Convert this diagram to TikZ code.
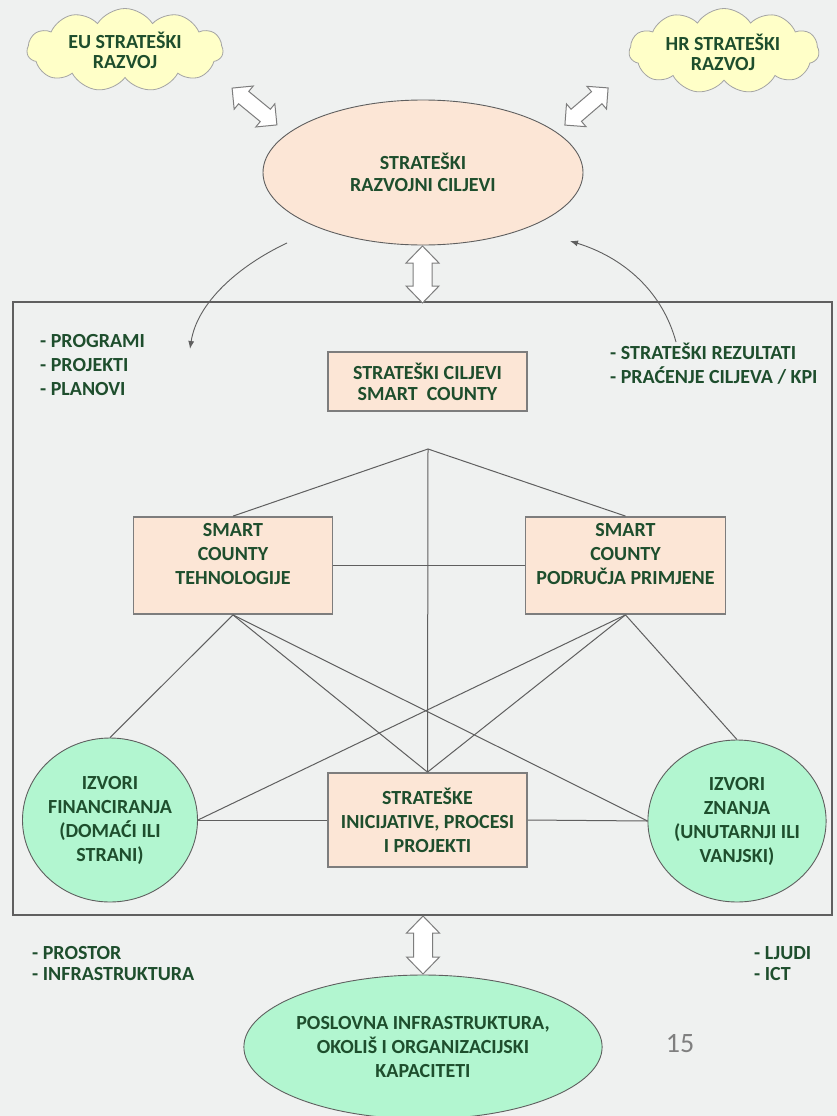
\documentclass[tikz,border=0pt]{standalone}
\usepackage{fontspec}
\setmainfont{Carlito}
\usetikzlibrary{shapes.geometric,shapes.symbols,calc,arrows.meta}
\definecolor{txtgreen}{RGB}{30,78,45}
\definecolor{peach}{RGB}{252,230,214}
\definecolor{mint}{RGB}{178,246,208}
\definecolor{cloudy}{RGB}{255,255,200}
\definecolor{bggray}{RGB}{239,241,240}
\definecolor{edgegray}{RGB}{125,125,125}
\definecolor{linegray}{RGB}{95,95,95}
\definecolor{pagenum}{RGB}{127,127,127}
\newcommand{\dblarrow}[6]{%
  \begin{scope}[shift={#1}, rotate=#2]
    \draw[blockarr] (-#3,0) -- (-#3+#6,#4) -- (-#3+#6,#5) -- (#3-#6,#5) -- (#3-#6,#4)
      -- (#3,0) -- (#3-#6,-#4) -- (#3-#6,-#5) -- (-#3+#6,-#5) -- (-#3+#6,-#4) -- cycle;
  \end{scope}}
\begin{document}
\begin{tikzpicture}[x=1pt,y=-1pt,
  every node/.style={font=\bfseries\fontsize{20}{24}\selectfont, text=txtgreen, inner sep=0pt, align=center},
  peachbox/.style={draw=edgegray, line width=1.8pt, fill=peach},
  ovalnode/.style={ellipse, draw=linegray, line width=0.9pt},
  cloudnode/.style={cloud, cloud puffs=11, cloud puff arc=115, draw=edgegray!70, line width=0.8pt, fill=cloudy},
  link/.style={draw=linegray, line width=1pt},
  curvearr/.style={draw=linegray, line width=0.9pt, -{Latex[length=8pt,width=6pt]}},
  blockarr/.style={draw=edgegray, fill=white, line width=1pt, line join=miter},
  sidetext/.style={align=left, anchor=west},
]
\useasboundingbox (0,0) rectangle (837,1116);
\fill[bggray] (0,0) rectangle (837,1116);

% clouds
\node[cloudnode, minimum width=196, minimum height=83] (eu) at (125,50) {};
\node at (125,50) {EU STRATEŠKI\\[-4pt]RAZVOJ};
\node[cloudnode, minimum width=190, minimum height=85] (hr) at (724,51) {};
\node at (723,52) {HR STRATEŠKI\\[-4pt]RAZVOJ};

% top ellipse
\node[ovalnode, fill=peach, minimum width=320, minimum height=145] (goals) at (423,172.5) {STRATEŠKI\\[-2pt]RAZVOJNI CILJEVI};

% frame
\node[draw=linegray, line width=1.2pt, minimum width=819, minimum height=613] (frame) at (422.5,608.5) {};

% block arrows
\dblarrow{(254.5,106.5)}{-39.4}{29}{15}{8}{15}
\dblarrow{(586.5,106.5)}{40.7}{28.5}{15}{8}{15}
\dblarrow{(422.5,274.5)}{90}{28.5}{16.5}{9.5}{17}
\dblarrow{(423,945)}{90}{29}{16.5}{9.5}{17}

% curved arrows
\coordinate (cl1) at (287,243);
\coordinate (cl2) at (190,349);
\coordinate (cr1) at (676,342);
\coordinate (cr2) at (570,241);
\draw[curvearr] (cl1) .. controls (238,266) and (197,303) .. (cl2);
\draw[curvearr] (cr1) .. controls (662,290) and (622,257) .. (cr2);

% side texts
\node[sidetext] (prog) at (40,365) {- PROGRAMI\\- PROJEKTI\\- PLANOVI};
\node[sidetext] (rez) at (610,364) {- STRATEŠKI REZULTATI\\- PRAĆENJE CILJEVA / KPI};
\node[sidetext] (pros) at (32,963.5) {- PROSTOR\\[-3pt]- INFRASTRUKTURA};
\node[sidetext] (ljudi) at (754,963.5) {- LJUDI\\[-3pt]- ICT};

% boxes
\node[peachbox, minimum width=199, minimum height=59] (sc) at (427.5,381.5) {STRATEŠKI CILJEVI\\[-3pt]SMART\ \ COUNTY};
\node[peachbox, minimum width=199, minimum height=97] (teh) at (233,565.5) {};
\node at ($(teh.center)+(0,-11)$) {SMART\\COUNTY\\TEHNOLOGIJE};
\node[peachbox, minimum width=200, minimum height=97] (pp) at (625.5,565.5) {};
\node at ($(pp.center)+(0,-11)$) {SMART\\COUNTY\\PODRUČJA PRIMJENE};
\node[peachbox, minimum width=199, minimum height=94] (si) at (427.5,820) {STRATEŠKE\\INICIJATIVE, PROCESI\\I PROJEKTI};

% circles
\node[ovalnode, fill=mint, minimum width=167, minimum height=164] (fin) at (110,820) {IZVORI\\FINANCIRANJA\\(DOMAĆI ILI\\STRANI)};
\node[ovalnode, fill=mint, minimum width=169, minimum height=162] (zn) at (737,821) {IZVORI\\ZNANJA\\(UNUTARNJI ILI\\VANJSKI)};

% connections
\coordinate (apex) at (428,449);
\draw[link] (teh.north) -- (apex) -- (pp.north);
\draw[link] (apex) -- (si.north);
\draw[link] (teh.east) -- (pp.west);
\draw[link] (teh.south) -- (fin.north);
\draw[link] (teh.south) -- (si.north);
\draw[link] (teh.south) -- (zn.west);
\draw[link] (pp.south) -- (fin.east);
\draw[link] (pp.south) -- (si.north);
\draw[link] (pp.south) -- (zn.north);
\draw[link] (fin.east) -- (si.west);
\draw[link] (si.east) -- (zn.west);

% bottom ellipse
\node[ovalnode, fill=mint, minimum width=320, minimum height=144] (base) at (423,1047) {POSLOVNA INFRASTRUKTURA,\\OKOLIŠ I ORGANIZACIJSKI\\KAPACITETI};

% page number
\node[font=\fontsize{28}{30}\selectfont, text=pagenum] (num) at (680,1044) {15};
\end{tikzpicture}
\end{document}
